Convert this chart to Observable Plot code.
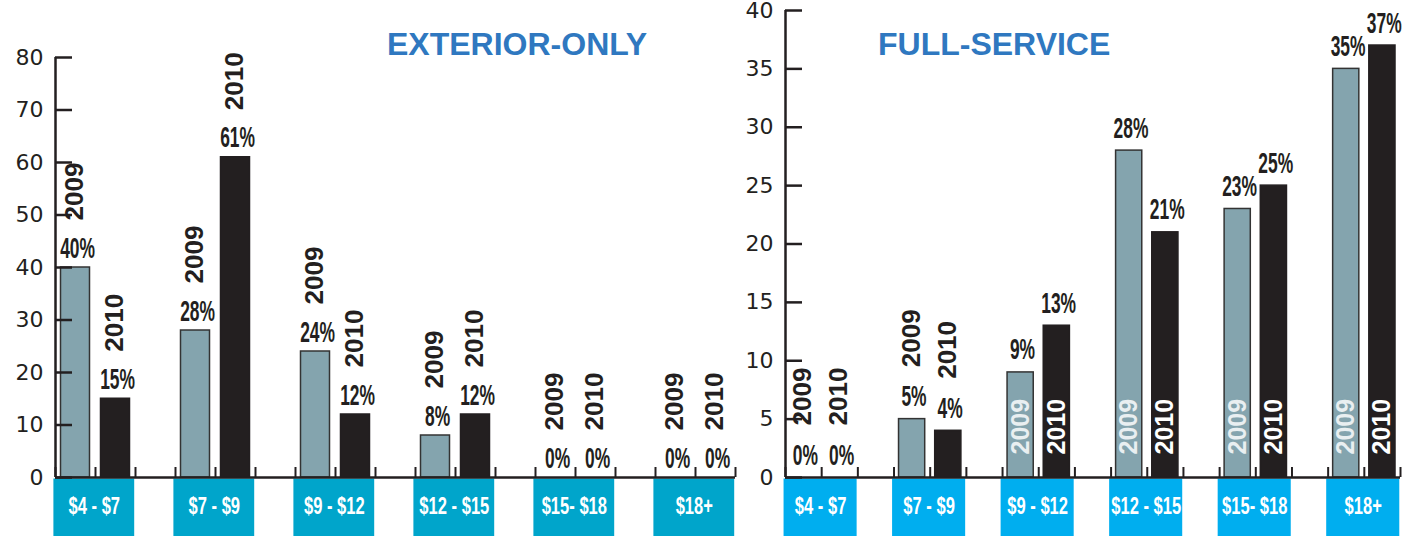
<!DOCTYPE html>
<html><head><meta charset="utf-8">
<script src="https://cdn.jsdelivr.net/npm/d3@7"></script>
<script src="https://cdn.jsdelivr.net/npm/@observablehq/plot@0.6"></script>
<style>
body{margin:0;background:#fff;}
#wrap{position:relative;width:1409px;height:536px;overflow:hidden;background:#fff;}
.panel{position:absolute;top:0;}
.title{position:absolute;top:28px;font-family:"Liberation Sans",Arial,sans-serif;font-weight:bold;font-size:32px;line-height:1;color:#2f78c0;white-space:nowrap;}
</style></head><body>
<div id="wrap">
  <div id="left" class="panel" style="left:0;width:745px"></div>
  <div id="right" class="panel" style="left:730px;width:679px"></div>
  <div class="title" style="left:387px">EXTERIOR-ONLY</div>
  <div class="title" style="left:878px">FULL-SERVICE</div>
</div>
<script>
const categories = ["$4 - $7", "$7 - $9", "$9 - $12", "$12 - $15", "$15- $18", "$18+"];
const years = ["2009", "2010"];
const exterior2009 = [40, 28, 24, 8, 0, 0];
const exterior2010 = [15, 61, 12, 12, 0, 0];
const full2009 = [0, 5, 9, 28, 23, 35];
const full2010 = [0, 4, 13, 21, 25, 37];
const exteriorTicks = [0, 10, 20, 30, 40, 50, 60, 70, 80];
const fullTicks = [0, 5, 10, 15, 20, 25, 30, 35, 40];

const BOLD = "'Liberation Sans',Arial,sans-serif";
const INK = "#231f20";
const GRAY = "#84a4ae";
const BOX_FS = 23, PCT_FS = 29;

function panel({v2009, v2010, ticks, width, marginTop, marginRight, boxColor, inside, pctGap, yearGap, inset}) {
  const yMax = ticks[ticks.length - 1];
  const ppu = (477 - marginTop) / yMax;
  const yMin = -(536 - 477) / ppu;
  const rows = [];
  categories.forEach((c, i) => {
    [v2009[i], v2010[i]].forEach((v, j) => {
      rows.push({cat: c, i, year: years[j], value: v, slot: 3 * i + j});
    });
  });
  const isInside = d => inside && d.value >= 9;
  const cats = categories.map((c, i) => ({cat: c, i}));
  return Plot.plot({
    width, height: 536,
    marginLeft: 55, marginRight, marginTop, marginBottom: 0,
    style: {background: "transparent", overflow: "visible", fontFamily: "'DejaVu Sans',sans-serif", fontSize: "22px", color: INK},
    x: {type: "linear", domain: [0, 17], axis: null},
    y: {domain: [yMin, yMax], axis: null},
    marks: [
      Plot.rect(cats, {x1: d => 3 * d.i - 0.04, x2: d => 3 * d.i + 1.98, y1: yMin - 1, y2: 0, insetTop: 1.5, fill: boxColor}),
      Plot.text(cats, {x: d => 3 * d.i + 0.97, y: yMin / 2, text: "cat", fill: "white", fontFamily: BOLD, fontWeight: "bold", fontSize: BOX_FS, lineAnchor: "middle"}),
      Plot.rectY(rows.filter(d => d.value > 0), {
        x1: "slot", x2: d => d.slot + 1, y1: 0, y2: "value",
        insetLeft: inset, insetRight: inset,
        fill: d => d.year === "2009" ? GRAY : INK,
        stroke: d => d.year === "2009" ? "#333" : INK, strokeWidth: 1.5
      }),
      Plot.ruleY([0], {x1: 0, x2: 17, stroke: INK, strokeWidth: 2.5}),
      Plot.ruleX([0], {y1: 0, y2: yMax, stroke: INK, strokeWidth: 2.5}),
      Plot.ruleX(d3.range(18), {y1: 0, y2: 10 / ppu, stroke: INK, strokeWidth: 2}),
      Plot.axisY({ticks, tickSize: -17, tickPadding: 29, tickFormat: d => d, label: null, stroke: INK, strokeWidth: 2.5, fill: INK}),
      Plot.text(rows, {x: d => d.slot + 0.55, y: "value", text: d => d.value + "%", dy: -pctGap, lineAnchor: "bottom", fill: INK, fontFamily: BOLD, fontWeight: "bold", fontSize: PCT_FS}),
      Plot.text(rows.filter(d => !isInside(d)), {x: d => d.slot + 0.48, y: "value", text: "year", rotate: -90, textAnchor: "start", lineAnchor: "middle", dy: -yearGap, fill: INK, fontFamily: BOLD, fontWeight: "bold", fontSize: 26}),
      Plot.text(rows.filter(isInside), {x: d => d.slot + 0.5, y: 0, text: "year", rotate: -90, textAnchor: "start", lineAnchor: "middle", dy: -23, fill: d => d.year === "2009" ? "#e9eff1" : "#ffffff", fontFamily: BOLD, fontWeight: "bold", fontSize: 25})
    ]
  });
}

// horizontally condense the labels of a text mark (picked by its font size) around their own centres
function condense(svg, fs, k) {
  d3.select(svg).selectAll(`g[font-size="${fs}"] text`).each(function() {
    const b = this.getBBox();
    const cx = b.x + b.width / 2;
    const old = this.getAttribute("transform") || "";
    this.setAttribute("transform", `${old} translate(${cx},0) scale(${k},1) translate(${-cx},0)`.trim());
  });
}

const leftSvg = panel({
  v2009: exterior2009, v2010: exterior2010, ticks: exteriorTicks,
  width: 745, marginTop: 57, marginRight: 10, boxColor: "#00a5cb",
  inside: false, pctGap: 10, yearGap: 47, inset: 5.5
});
const rightSvg = panel({
  v2009: full2009, v2010: full2010, ticks: fullTicks,
  width: 679, marginTop: 10, marginRight: 9, boxColor: "#00aeef",
  inside: true, pctGap: 13, yearGap: 52, inset: 5
});
document.getElementById("left").append(leftSvg);
document.getElementById("right").append(rightSvg);
for (const s of [leftSvg, rightSvg]) {
  condense(s, BOX_FS, 0.72);
  condense(s, PCT_FS, 0.6);
}
</script>
</body></html>
